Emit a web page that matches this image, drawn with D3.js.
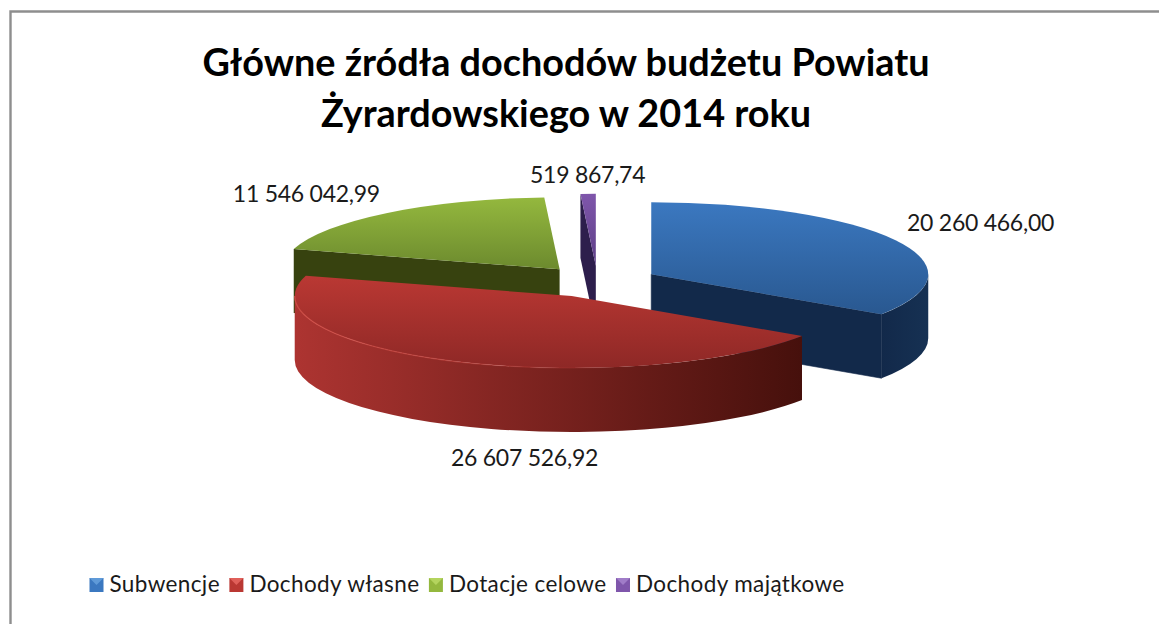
<!DOCTYPE html>
<html>
<head>
<meta charset="utf-8">
<script src="https://cdnjs.cloudflare.com/ajax/libs/d3/7.8.5/d3.min.js"></script>
<style>
  html, body { margin: 0; padding: 0; background: #fff; }
  svg { display: block; }
  text { font-family: Lato, "Open Sans", sans-serif; fill: #1a1a1a; }
</style>
</head>
<body>
<div id="chart"></div>
<script>
//Data
var titleLines = ["Główne źródła dochodów budżetu Powiatu", "Żyrardowskiego w 2014 roku"];
var categories = ["Subwencje", "Dochody własne", "Dotacje celowe", "Dochody majątkowe"];
var values = [20260466.00, 26607526.92, 11546042.99, 519867.74];
var valueLabels = ["20 260 466,00", "26 607 526,92", "11 546 042,99", "519 867,74"];

//Colors per slice
var topFrom = ["#3b78c0", "#ba3833", "#94b83e", "#7f56ab"];
var topTo = ["#295890", "#8e2826", "#6c8a2e", "#5d3f86"];
var sideFrom = ["#12294a", "#ad3431", "#37420f", "#2d1e4c"];
var sideTo = ["#163153", "#46100c", "#37420f", "#2d1e4c"];
var legendLight = ["#5f9ad8", "#e0605a", "#b4d45e", "#a07cc8"];

//Width and height
var w = 1159;
var h = 624;

//Pie geometry
var cx = 597.5;
var cy = 281.7;
var rx = 277;
var ry = 72;
var depth = 64;
var explode = 0.22;

var svg = d3.select("#chart")
  .append("svg")
  .attr("width", w)
  .attr("height", h);

var defs = svg.append("defs");

//Frame, only top and left are inside the crop
svg.append("path")
  .attr("d", "M10.5," + h + "V11.5H" + w)
  .attr("fill", "none")
  .attr("stroke", "#8e8e8e")
  .attr("stroke-width", 2.4);

//Title
svg.selectAll("text.title")
  .data(titleLines)
  .enter()
  .append("text")
  .attr("class", "title")
  .attr("x", 566)
  .attr("y", function(d, i) { return 76 + i * 51; })
  .attr("text-anchor", "middle")
  .attr("font-size", 37.8)
  .attr("font-weight", 700)
  .style("fill", "#000")
  .text(function(d) { return d; });

//Pie layout, keeps the order of the data, starts at 12 o'clock
var pie = d3.pie().sort(null).value(function(d) { return d; });
var slices = pie(values);

var arc = d3.arc().innerRadius(0).outerRadius(rx);

//Each slice moves out along its own middle angle, in the flattened plane
slices.forEach(function(d, i) {
  d.index = i;
  d.mid = (d.startAngle + d.endAngle) / 2;
  d.ax = cx + Math.sin(d.mid) * rx * explode;
  d.ay = cy - Math.cos(d.mid) * ry * explode;
});

function px(d, a) { return d.ax + Math.sin(a) * rx; }
function py(d, a) { return d.ay - Math.cos(a) * ry; }

//Gradients
function gradient(id, horizontal, from, to) {
  var g = defs.append("linearGradient")
    .attr("id", id)
    .attr("x1", 0).attr("y1", 0)
    .attr("x2", horizontal ? 1 : 0).attr("y2", horizontal ? 0 : 1);
  g.append("stop").attr("offset", 0).attr("stop-color", from);
  g.append("stop").attr("offset", 1).attr("stop-color", to);
}

slices.forEach(function(d, i) {
  gradient("top" + i, false, topFrom[i], topTo[i]);
  gradient("side" + i, true, sideFrom[i], sideTo[i]);
});

//Side of the rim between two angles, only the front half can be seen
function rimPath(d, a0, a1) {
  return "M" + px(d, a0) + "," + py(d, a0)
    + "A" + rx + "," + ry + " 0 0 " + (a1 > a0 ? 1 : 0) + " " + px(d, a1) + "," + py(d, a1)
    + "V" + (py(d, a1) + depth)
    + "A" + rx + "," + ry + " 0 0 " + (a1 > a0 ? 0 : 1) + " " + px(d, a0) + "," + (py(d, a0) + depth)
    + "Z";
}

//Cut face from the outer edge at angle a to the middle of the pie
function facePath(d, a) {
  return "M" + px(d, a) + "," + py(d, a)
    + "L" + d.ax + "," + d.ay
    + "V" + (d.ay + depth)
    + "L" + px(d, a) + "," + (py(d, a) + depth)
    + "Z";
}

//Painter's order: back slices first
var order = [3, 2, 0, 1];

order.forEach(function(i) {
  var d = slices[i];
  var g = svg.append("g").attr("class", "slice " + categories[i]);

  if (i === 0) {
    //Subwencje: cut face along the end edge and the rim from 3 o'clock
    g.append("path").attr("d", rimPath(d, Math.PI / 2, d.endAngle)).attr("fill", "url(#side0)");
    g.append("path").attr("d", facePath(d, d.endAngle))
      .attr("fill", sideFrom[0])
      .attr("stroke", sideFrom[0])
      .attr("stroke-width", 0.6);
  }
  if (i === 1) {
    //Dochody wlasne: only the rim shows
    g.append("path").attr("d", rimPath(d, d.startAngle, Math.PI * 1.5)).attr("fill", "url(#side1)");
  }
  if (i >= 2) {
    //Back slices: only the cut face along the start edge
    g.append("path").attr("d", facePath(d, d.startAngle)).attr("fill", sideFrom[i]);
  }

  g.append("path")
    .attr("d", arc(d))
    .attr("transform", "translate(" + d.ax + "," + d.ay + ") scale(1," + (ry / rx) + ")")
    .attr("fill", "url(#top" + i + ")");
});

//Light bevel line along the front edge of the red slice
var bevel = defs.append("linearGradient")
  .attr("id", "bevel")
  .attr("x1", 0).attr("y1", 0).attr("x2", 1).attr("y2", 0);
bevel.append("stop").attr("offset", 0).attr("stop-color", "#d24f48").attr("stop-opacity", 0.9);
bevel.append("stop").attr("offset", 0.6).attr("stop-color", "#c4423c").attr("stop-opacity", 0.5);
bevel.append("stop").attr("offset", 1).attr("stop-color", "#c4423c").attr("stop-opacity", 0);

var red = slices[1];
var bevelFrom = Math.PI * 1.5;
var bevelTo = Math.PI * 0.95;
svg.append("path")
  .attr("d", "M" + px(red, bevelFrom) + "," + py(red, bevelFrom)
    + "A" + rx + "," + ry + " 0 0 0 " + px(red, bevelTo) + "," + py(red, bevelTo))
  .attr("fill", "none")
  .attr("stroke", "url(#bevel)")
  .attr("stroke-width", 1.2);

//Value labels, placed from the outer point of each slice
var labelShift = [[85, -9], [70, 41], [-81, -11], [-0.5, -11]];

svg.selectAll("text.value")
  .data(slices)
  .enter()
  .append("text")
  .attr("class", "value")
  .attr("x", function(d, i) { return px(d, d.mid) + labelShift[i][0]; })
  .attr("y", function(d, i) { return py(d, d.mid) + (i === 1 ? depth : 0) + labelShift[i][1]; })
  .attr("text-anchor", "middle")
  .attr("font-size", 23)
  .attr("letter-spacing", -0.25)
  .text(function(d, i) { return valueLabels[i]; });

//Legend, items flow after each other
var legendX = 89.5;
var legendY = 578;
var box = 14;

categories.forEach(function(name, i) {
  var item = svg.append("g").attr("class", "legend");
  var s = legendX;

  item.append("rect")
    .attr("x", s).attr("y", legendY)
    .attr("width", box).attr("height", box)
    .attr("fill", topFrom[i]);

  item.append("path")
    .attr("d", "M" + s + "," + legendY + "h" + box + "l" + (-box / 2) + "," + (box / 2) + "Z")
    .attr("fill", legendLight[i]);

  var label = item.append("text")
    .attr("x", s + box + 6)
    .attr("y", legendY + 14)
    .attr("font-size", 22.5)
    .attr("letter-spacing", 0.38)
    .text(name);

  legendX = s + box + 6 + label.node().getComputedTextLength() + 9.5;
});
</script>
</body>
</html>
